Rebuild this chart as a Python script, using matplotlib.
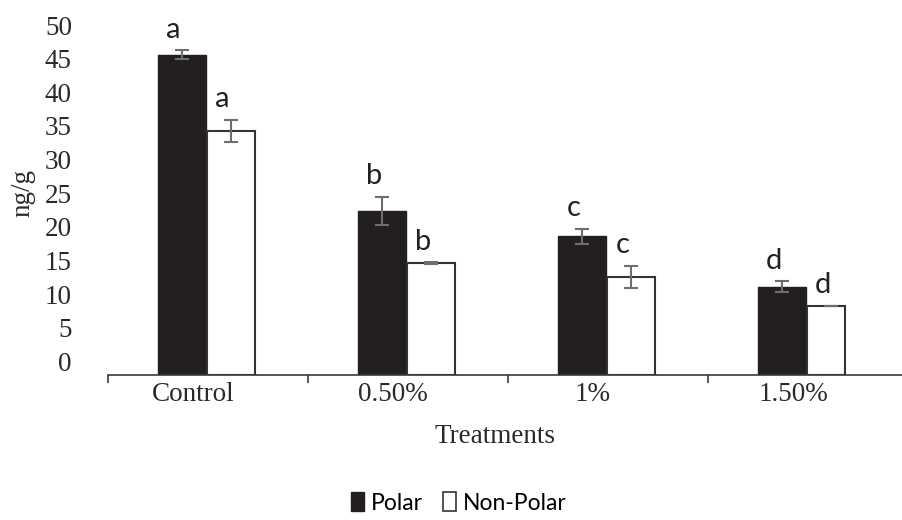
import numpy as np
import matplotlib
matplotlib.use("Agg")
import matplotlib.pyplot as plt
from matplotlib.patches import Patch
from matplotlib.transforms import offset_copy, ScaledTranslation

# Measured concentrations (ng/g) with standard errors and significance letters
treatments = ["Control", "0.50%", "1%", "1.50%"]
polar = [45.6, 22.4, 18.6, 11.1]
polar_err = [0.65, 2.1, 1.1, 0.8]
nonpolar = [34.3, 14.6, 12.6, 8.3]
nonpolar_err = [1.65, 0.15, 1.65, 0.0]
polar_letters = ["a", "b", "c", "d"]
nonpolar_letters = ["a", "b", "c", "d"]

W, H = 902, 520
fig = plt.figure(figsize=(W / 100, H / 100), dpi=100)

# axis floor sits a little below the 0 label
floor = -2.0
top = 51.0
px_per_unit = 6.73
ax_bottom = 145
ax_height = (top - floor) * px_per_unit
ax = fig.add_axes([108 / W, ax_bottom / H, 800 / W, ax_height / H])
ax.set_xlim(-0.5, 3.5)
ax.set_ylim(floor, top)

x = np.arange(len(treatments))
bar_w = 0.24
nonpolar_w = np.array([0.24, 0.24, 0.24, 0.19])

ax.bar(x - 0.13, np.array(polar) - floor, bottom=floor, width=bar_w,
       color="#231f20", edgecolor="#231f20", linewidth=1.0, zorder=2)
ax.bar(x + 0.115 + (nonpolar_w - bar_w) / 2, np.array(nonpolar) - floor,
       bottom=floor, width=nonpolar_w, color="white", edgecolor="#333333",
       linewidth=1.5, zorder=2)

ax.errorbar(x - 0.13, polar, yerr=polar_err, fmt="none", ecolor="#6e6e6e",
            elinewidth=1.5, capsize=5, capthick=1.5, zorder=3)
ax.errorbar(x + 0.115, nonpolar, yerr=nonpolar_err, fmt="none", ecolor="#6e6e6e",
            elinewidth=1.5, capsize=5, capthick=1.5, zorder=3)

# significance letters just above each error bar
letter_tr = offset_copy(ax.transData, fig=fig, x=-6, y=9, units="points")
for xi, v, e, s in zip(x - 0.13, polar, polar_err, polar_letters):
    ax.text(xi, v + e, s, transform=letter_tr, ha="center", va="baseline",
            family="Lato", fontsize=21, color="#222222")
for xi, v, e, s in zip(x + 0.115, nonpolar, nonpolar_err, nonpolar_letters):
    ax.text(xi, v + e, s, transform=letter_tr, ha="center", va="baseline",
            family="Lato", fontsize=21, color="#222222")

for side in ["top", "right", "left"]:
    ax.spines[side].set_visible(False)
ax.spines["bottom"].set_color("#3a3a3a")
ax.spines["bottom"].set_linewidth(1.2)

ax.set_yticks(np.arange(0, 51, 5))
ax.set_yticklabels([str(v) for v in range(0, 51, 5)], family="Liberation Serif",
                   fontsize=19.5, color="#2a2a2a")
ax.tick_params(axis="y", length=0, pad=26)

ax.set_xticks(x)
ax.set_xticklabels(treatments, family="Liberation Serif", fontsize=19.5,
                   color="#2a2a2a")
ax.tick_params(axis="x", which="major", length=0, pad=5)
# category names sit a bit left of the group centres
shift = ScaledTranslation(-0.15, 0, fig.dpi_scale_trans)
for lbl in ax.get_xticklabels():
    lbl.set_transform(lbl.get_transform() + shift)
ax.set_xticks(np.arange(-0.5, 3.6, 1.0), minor=True)
ax.tick_params(axis="x", which="minor", length=6, width=1.2, color="#3a3a3a",
               direction="out")

fig.text(23 / W, 1 - 193 / H, "ng/g", rotation=90, ha="center", va="center",
         family="Liberation Serif", fontsize=19.5, color="#2a2a2a")
fig.text(495 / W, 1 - 443 / H, "Treatments", ha="center", va="baseline",
         family="Liberation Serif", fontsize=19.5, color="#2a2a2a")

handles = [Patch(facecolor="#231f20", edgecolor="#231f20", label="Polar"),
           Patch(facecolor="white", edgecolor="#333333", linewidth=1.2,
                 label="Non-Polar")]
fig.legend(handles=handles, loc="center", bbox_to_anchor=(459 / W, 17 / H),
           ncol=2, frameon=False, handlelength=0.55, handleheight=0.85,
           handletextpad=0.3, columnspacing=0.9,
           prop={"family": "Lato", "size": 16.5})

fig.savefig("out.png", dpi=100)
